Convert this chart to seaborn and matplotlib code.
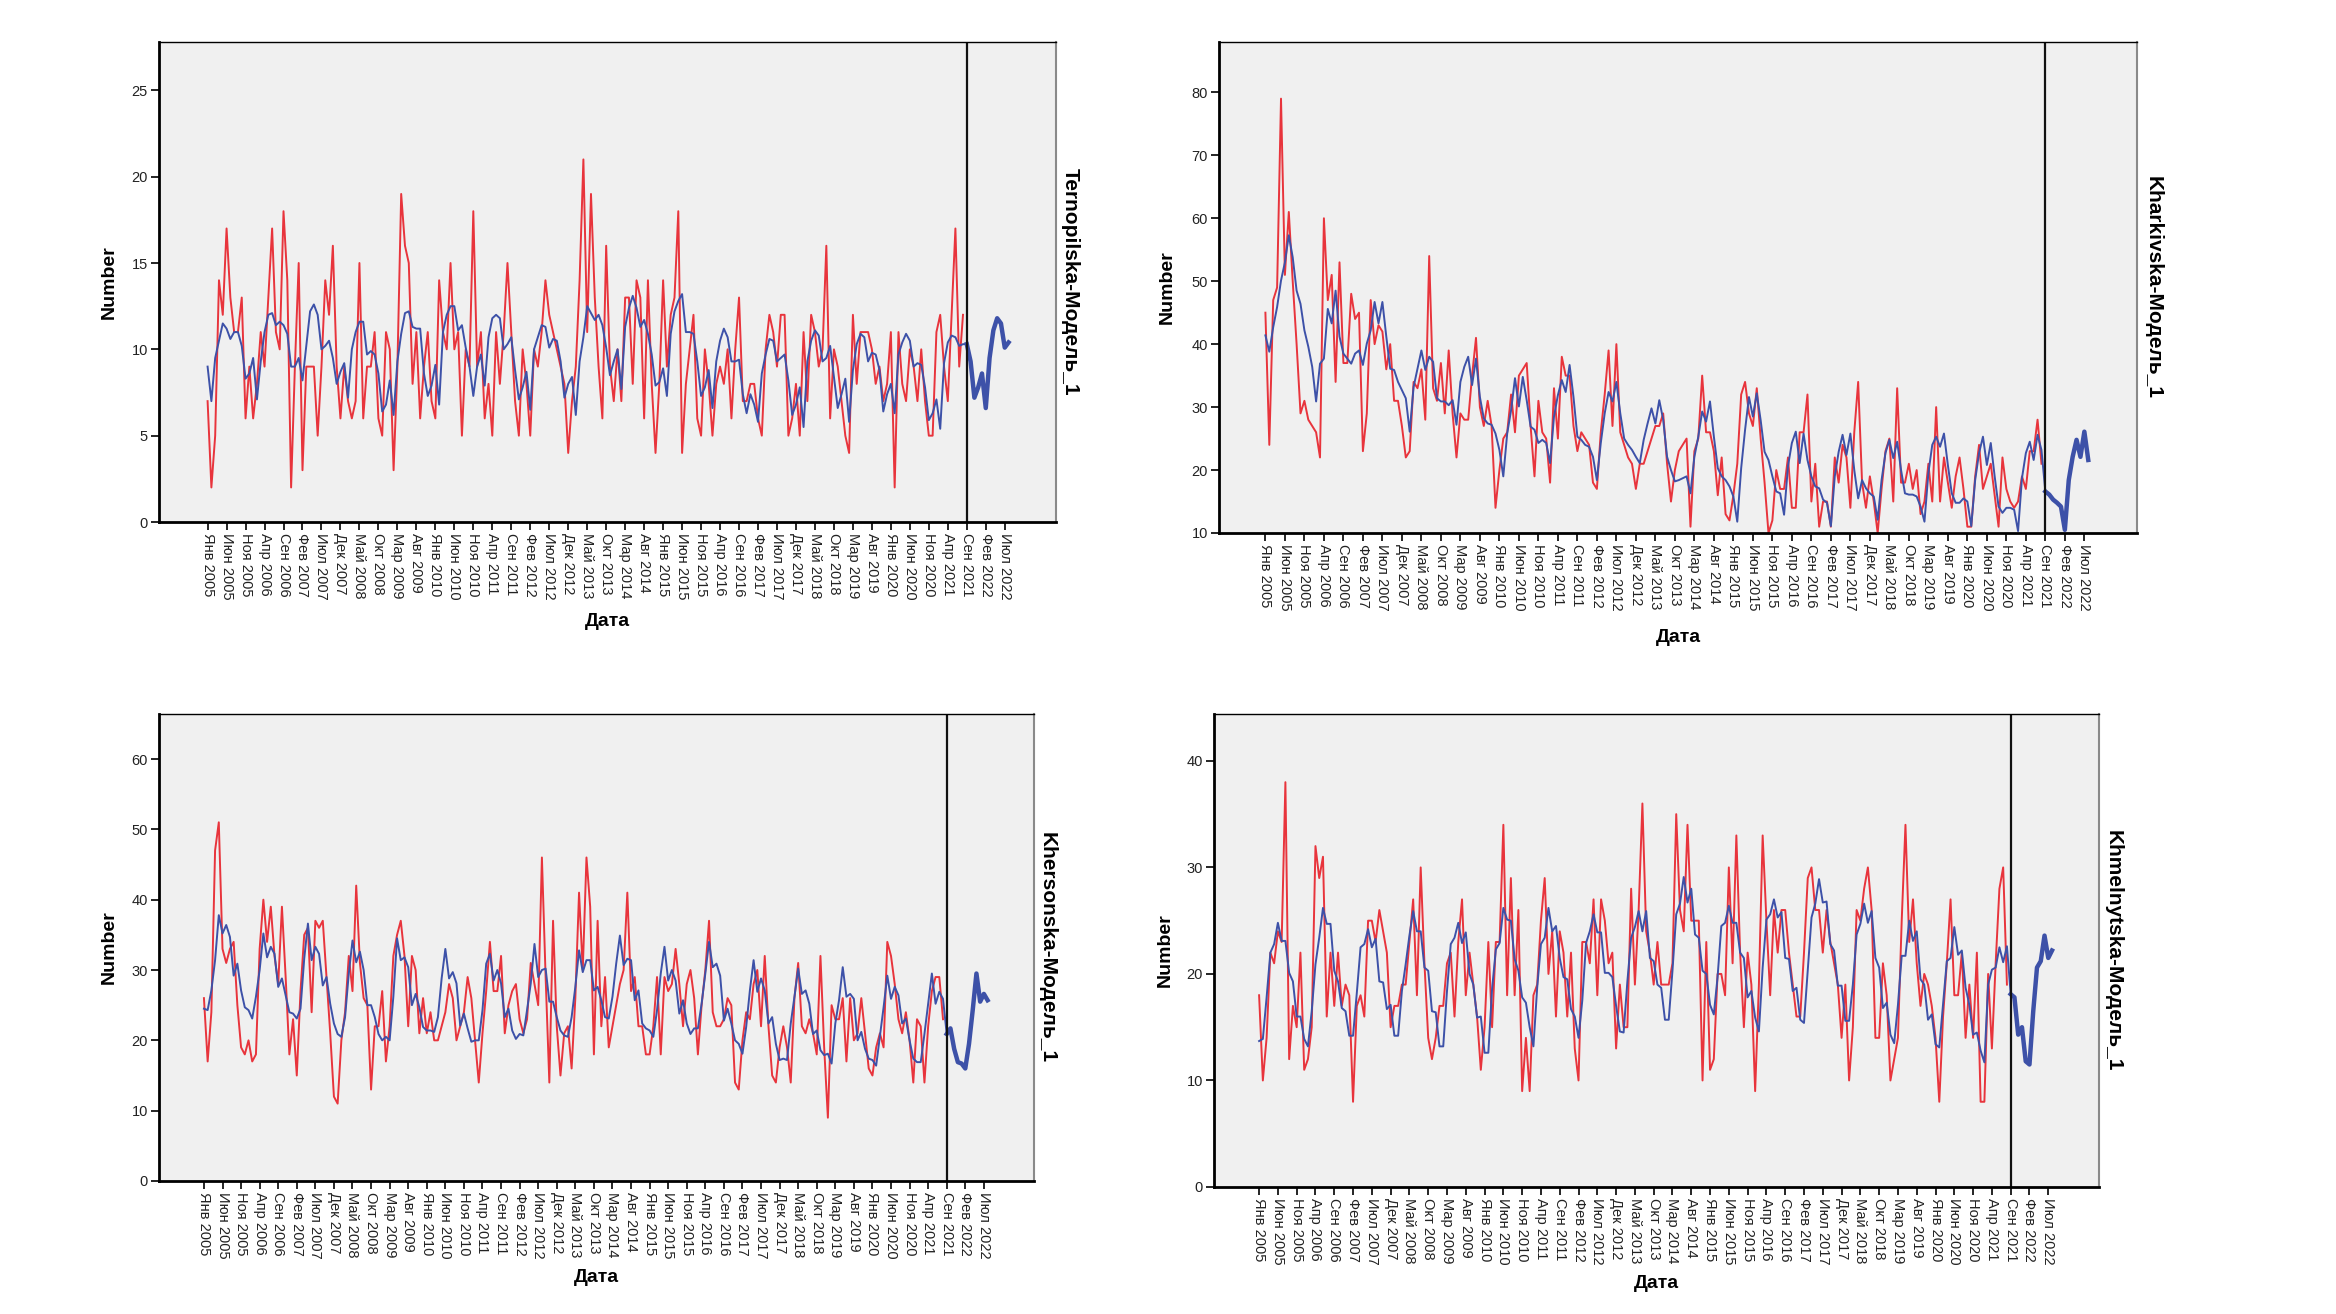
import matplotlib
matplotlib.use('Agg')
import matplotlib.pyplot as plt
import seaborn as sns
import pandas as pd

# --- data (monthly, starting Jan 2005) ---
month_names = ['Янв', 'Фев', 'Мар', 'Апр', 'Май', 'Июн',
               'Июл', 'Авг', 'Сен', 'Окт', 'Ноя', 'Дек']
start_year = 2005
forecast_start = 200  # Сен 2021

tern_obs = [7, 2, 5, 14, 12, 17, 13, 11, 11, 13, 6, 9, 6, 8, 11, 9, 13, 17, 11, 10,
            18, 14, 2, 9, 15, 3, 9, 9, 9, 5, 9, 14, 12, 16, 9, 6, 9, 7, 6, 7,
            15, 6, 9, 9, 11, 6, 5, 11, 10, 3, 9, 19, 16, 15, 8, 11, 6, 9, 11, 7,
            6, 14, 11, 10, 15, 10, 11, 5, 10, 9, 18, 9, 11, 6, 8, 5, 11, 8, 11, 15,
            11, 7, 5, 10, 8, 5, 10, 9, 11, 14, 12, 11, 10, 9, 8, 4, 7, 9, 14, 21,
            11, 19, 13, 9, 6, 16, 9, 7,
            10, 7, 13, 13, 8, 14, 13, 6, 14, 8, 4, 8, 14, 9, 12, 13, 18, 4, 8, 10,
            12, 6, 5, 10, 8, 5, 8, 9, 8, 10, 6, 10, 13, 7, 7, 8, 8, 6, 5, 10,
            12, 11, 9, 12, 12, 5, 6, 8, 5, 11, 7, 12, 11, 9, 10, 16, 6, 10, 9, 7,
            5, 4, 12, 8, 11, 11, 11, 10, 8, 9, 7, 8, 11, 2, 11, 8, 7, 10, 9, 7,
            10, 7, 5, 5, 11, 12, 9, 7, 12, 17, 9, 12]
tern_fit = [9, 7, 9.5, 10.5, 11.5, 11.2, 10.6, 11, 11, 10.2, 8.3, 8.6, 9.5, 7.1, 9.3, 11, 12, 12.1, 11.4, 11.6,
            11.4, 10.9, 9, 9, 9.5, 8.2, 10.2, 12.2, 12.6, 12, 10, 10.2, 10.5, 9.5, 8, 8.7, 9.2, 7.2, 10, 11,
            11.6, 11.6, 9.7, 9.9, 9.7, 8.6, 6.4, 6.8, 8.2, 6.2, 9.3, 10.9, 12.1, 12.2, 11.3, 11.2, 11.2, 8.6, 7.3, 7.9,
            9.1, 6.8, 11, 12, 12.5, 12.5, 11.1, 11.4, 10.1, 9, 7.3, 9, 9.7, 7.9, 10.7, 11.8, 12, 11.8, 10, 10.3,
            10.7, 8.8, 7.1, 7.8, 8.7, 6.5, 10, 10.7, 11.4, 11.3, 10.1, 10.6, 10.5, 9.3, 7.2, 8, 8.4, 6.2, 9.3, 10.7,
            12.5, 12.1, 11.7, 12, 11.4, 10.1,
            8.5, 9.3, 10, 7.7, 11.3, 12.4, 13.1, 12.4, 11.3, 11.7, 10.9, 9.7, 7.9, 8.1, 8.9, 7.3, 10.9, 12.2, 12.8, 13.2,
            11, 11, 10.9, 9.3, 7.3, 7.8, 8.8, 6.6, 9.3, 10.5, 11.2, 10.7, 9.3, 9.3, 9.4, 7.4, 6.3, 7.4, 6.8, 5.8,
            8.6, 9.7, 10.6, 10.5, 9.3, 9.5, 9.7, 8.2, 6.2, 6.8, 7.8, 5.5, 9.3, 10.5, 11.1, 10.8, 9.3, 9.5, 10.2, 8.4,
            6.6, 7.4, 8.3, 5.8, 8.8, 10.3, 10.9, 10.7, 9.3, 9.8, 9.7, 8.8, 6.4, 7.4, 8, 6.3, 9.7, 10.4, 10.9, 10.5,
            9, 9.2, 9.1, 7.8, 5.9, 6.3, 7.1, 5.4, 9.2, 10.4, 10.8, 10.7, 10.2, 10.3, 10.3, 9.3, 7.2, 7.8, 8.6, 6.6,
            9.5, 11.1, 11.8, 11.5, 10.1, 10.4]

khar_obs = [45, 24, 47, 49, 79, 51, 61, 50, 40, 29, 31, 28, 27, 26, 22, 60, 47, 51, 34, 53,
            37, 37, 48, 44, 45, 23, 29, 47, 40, 43, 42, 36, 40, 31, 31, 27, 22, 23, 34, 33,
            36, 28, 54, 33, 31, 37, 29, 39, 29, 22, 29, 28, 28, 35, 41, 30, 27, 31, 27, 14,
            20, 25, 26, 32, 26, 35, 36, 37, 27, 19, 31, 26, 25, 18, 33, 25, 38, 35, 35, 27,
            23, 26, 25, 24, 18, 17, 26, 32, 39, 27, 40, 26, 24, 22, 21, 17, 21, 21, 23, 25,
            27, 27, 29, 21, 15, 20, 23, 24, 25, 11,
            23, 25, 35, 26, 26, 23, 16, 22, 13, 12, 16, 21, 32, 34, 29, 27, 33, 25, 18, 10,
            12, 20, 17, 17, 22, 14, 14, 26, 26, 32, 15, 21, 11, 15, 15, 11, 22, 18, 24, 22,
            14, 26, 34, 18, 14, 19, 15, 10, 17, 23, 25, 15, 33, 18, 18, 21, 17, 20, 13, 15,
            21, 15, 30, 15, 22, 18, 14, 19, 22, 17, 11, 11, 19, 24, 17, 19, 21, 16, 11, 22,
            17, 15, 14, 15, 19, 17, 23, 23, 28, 21]
khar_fit = [41.4, 38.8, 42.7, 45.9, 50.1, 53, 57.3, 53.8, 48.5, 46.4, 42.2, 39.6, 36.4, 30.9, 36.9, 37.7, 45.6, 43.3, 48.5, 41.2,
            38.5, 37.7, 36.9, 38.5, 39, 36.7, 40.1, 42.2, 46.7, 43.3, 46.7, 41.2, 36.1, 35.9, 34, 32.7, 31.4, 26.1, 33.2, 36.1,
            39, 35.9, 38, 37.2, 31.4, 30.9, 30.9, 30.3, 31.1, 27.2, 34, 36.4, 38, 33.5, 37.7, 31.6, 28.2, 27.4, 27.2, 25.8,
            23.2, 19, 25.8, 29.5, 34.6, 30.1, 34.8, 31.1, 26.9, 26.4, 24.3, 24.8, 24.3, 21.1, 28.5, 31.9, 34.3, 32.4, 36.7, 31.6,
            25.3, 24.8, 24, 23.7, 22.1, 18.4, 24.3, 29, 32.4, 30.9, 34, 29, 25, 24, 23.2, 22.1, 21.1, 24.8, 27.4, 29.8,
            27.4, 31.1, 28, 22.1, 20, 18.2, 18.4, 18.7, 19, 16.3,
            22.1, 25.3, 29.3, 27.7, 30.9, 25.3, 20.3, 19, 18.4, 17.4, 15.8, 11.8, 20.3, 26.4, 31.6, 28.5, 32.2, 27.9, 22.9, 21.6,
            19, 16.6, 16.3, 12.9, 20.6, 24.3, 26.1, 21.1, 25.8, 21.6, 19, 17.4, 17.1, 15.3, 14.8, 11.1, 19, 22.9, 25.6, 22.4,
            25.8, 20, 15.5, 18.4, 17.1, 16.3, 15.8, 12.1, 18.4, 22.7, 24.8, 21.9, 24.5, 20, 16.3, 16.1, 16.1, 15.8, 14.2, 11.8,
            19.5, 24, 25.3, 23.7, 25.8, 20.8, 16.3, 14.8, 14.8, 15.5, 15, 11.1, 18.4, 22.7, 25.3, 20.8, 24.3, 19, 14.2, 13.2,
            14, 14, 13.7, 10.3, 18.7, 22.7, 24.5, 21.6, 25.6, 23.2, 16.6, 16.1, 15.3, 14.8, 14.2, 10.5, 18.4, 22.1, 24.8, 22.1,
            26.1, 21.6]

kher_obs = [26, 17, 24, 47, 51, 33, 31, 33, 34, 25, 19, 18, 20, 17, 18, 33, 40, 34, 39, 32,
            28, 39, 29, 18, 23, 15, 27, 35, 36, 24, 37, 36, 37, 29, 21, 12, 11, 20, 24, 32,
            27, 42, 31, 26, 25, 13, 22, 22, 27, 17, 22, 32, 35, 37, 32, 22, 32, 30, 21, 26,
            21, 24, 20, 20, 22, 24, 28, 26, 20, 22, 24, 29, 26, 20, 14, 21, 27, 34, 27, 27,
            32, 21, 25, 27, 28, 23, 21, 23, 31, 28, 25, 46, 29, 14, 37, 22, 15, 21, 22, 16,
            26, 41, 30, 46, 39, 18, 37, 22, 29,
            19, 22, 25, 28, 30, 41, 27, 29, 22, 22, 18, 18, 22, 29, 18, 29, 27, 28, 33, 28,
            22, 28, 30, 26, 18, 25, 30, 37, 24, 22, 22, 23, 26, 25, 14, 13, 20, 24, 23, 28,
            30, 22, 32, 22, 15, 14, 19, 22, 19, 14, 26, 31, 22, 21, 23, 21, 18, 32, 19, 9,
            25, 23, 23, 26, 17, 26, 20, 21, 26, 21, 16, 15, 19, 21, 19, 34, 32, 28, 23, 21,
            24, 20, 14, 23, 22, 14, 22, 27, 29, 29, 23]
kher_fit = [24.5, 24.3, 27.1, 31.4, 37.8, 35.2, 36.4, 34.7, 29.2, 30.9, 27.1, 24.7, 24.3, 23.1, 26.2, 30, 35.2, 31.8, 33.3, 32.3,
            27.6, 28.8, 26.4, 24, 23.8, 23.1, 24.5, 31.6, 36.6, 31.4, 33.3, 32.3, 27.8, 29, 25.2, 22.4, 20.9, 20.5, 23.3, 29.5,
            34.2, 31.1, 32.6, 30, 25, 25, 23.3, 20.9, 20, 20.5, 20, 26.2, 34.5, 31.4, 31.8, 30.4, 25, 26.6, 24.7, 21.9,
            21.4, 21.4, 21.2, 23.3, 28.8, 33, 28.8, 29.7, 28.1, 22.1, 23.8, 21.7, 19.8, 20, 20, 24.3, 30.9, 32.3, 28.5, 30,
            28.1, 23.3, 24.5, 21.4, 20.2, 20.9, 20.7, 24.3, 28.1, 33.7, 29, 30, 30.2, 25.5, 25.5, 23.3, 21.4, 20.7, 20.5, 23.3,
            27.6, 32.8, 29.7, 31.4, 31.4, 27.1, 27.6, 25.7, 23.3,
            23.1, 26.2, 30.9, 34.9, 30.7, 31.6, 31.4, 25.7, 27.1, 22.4, 21.7, 21.4, 20.5, 24.3, 29.5, 33.3, 28.5, 30, 28.5, 23.8,
            25.7, 22.4, 20.9, 21.7, 21.7, 25.2, 29.5, 34, 30.4, 30.9, 29.2, 22.8, 24.5, 22.4, 20, 19.5, 18.1, 21.9, 27.1, 31.4,
            26.9, 28.8, 27.1, 22.4, 23.3, 19.5, 17.2, 17.4, 17.2, 22.4, 26.2, 30.2, 26.6, 27.1, 25.2, 20.9, 21.4, 18.6, 17.9, 18.1,
            16.7, 22.4, 25.7, 30.4, 26.2, 26.6, 25.9, 20, 21.2, 18.8, 17.4, 17.2, 16.4, 20.5, 24.7, 29.2, 25.9, 27.6, 26.4, 22.4,
            23.1, 20, 17.4, 16.9, 16.9, 20.9, 25.2, 29.5, 25.2, 26.9, 25.9, 20.9, 21.7, 18.8, 16.9, 16.7, 16, 19.5, 24.3, 29.5,
            25.5, 26.6, 25.7]

khme_obs = [18, 10, 14, 22, 21, 24, 23, 38, 12, 17, 15, 22, 11, 12, 15, 32, 29, 31, 16, 22,
            17, 22, 17, 19, 18, 8, 17, 18, 16, 25, 25, 23, 26, 24, 22, 15, 17, 17, 19, 19,
            23, 27, 18, 30, 21, 14, 12, 14, 17, 17, 21, 22, 16, 23, 27, 18, 22, 19, 16, 11,
            15, 23, 15, 23, 23, 34, 18, 29, 18, 26, 9, 14, 9, 18, 19, 25, 29, 20, 24, 16,
            24, 22, 16, 22, 13, 10, 23, 23, 21, 27, 18, 27, 25, 21, 22, 13, 19, 15, 15, 28,
            19, 26, 36, 24, 22, 19, 23, 19, 19, 19, 21, 35,
            26, 24, 34, 25, 25, 25, 10, 23, 11, 12, 20, 20, 18, 30, 21, 33, 22, 15, 22, 19,
            9, 19, 33, 25, 18, 26, 22, 26, 26, 22, 19, 16, 16, 22, 29, 30, 26, 26, 22, 26,
            23, 21, 19, 14, 19, 10, 15, 26, 25, 28, 30, 26, 14, 14, 21, 18, 10, 12, 14, 25,
            34, 23, 27, 21, 17, 20, 19, 17, 14, 8, 16, 21, 27, 18, 18, 22, 14, 19, 14, 22,
            8, 8, 20, 13, 21, 28, 30, 19]
khme_fit = [13.7, 13.9, 17.8, 22, 22.8, 24.8, 23.1, 23.1, 20.1, 19.3, 16, 16, 13.9, 13.2, 16.5, 20.9, 23.4, 26.2, 24.7, 24.7,
            20.3, 19.3, 16.8, 16.5, 14.2, 14.2, 18.2, 22.5, 22.8, 24.2, 22.5, 23.3, 19.3, 19.2, 16.7, 17.1, 14.2, 14.2, 18.4, 20.9,
            23.6, 25.9, 24, 24, 20.6, 20.3, 16.5, 16.4, 13.2, 13.2, 18.4, 22.8, 23.4, 24.8, 22.9, 23.9, 20, 19, 15.9, 16,
            12.6, 12.6, 18.6, 22.3, 22.9, 26.2, 25.1, 25, 21.4, 20.3, 17.8, 17.3, 15, 13.2, 18.7, 22.8, 23.4, 26.2, 24, 24.5,
            21.5, 19.7, 19.5, 16.7, 16, 14, 17.5, 22.9, 24, 25.6, 23.9, 23.9, 20.1, 20.1, 19.7, 17, 14.6, 14.5, 19.3, 23.4,
            24.4, 25.9, 24, 25.9, 21.5, 21.2, 19, 18.7, 15.7, 15.7,
            20.3, 25.6, 26.6, 29.1, 26.7, 28, 23.7, 23.4, 20.3, 20, 17.1, 16.2, 19.7, 24.5, 24.8, 26.4, 24.8, 24.8, 22, 21.5,
            17.8, 18.4, 15.9, 14.6, 20.6, 25.1, 25.6, 27, 25.3, 25.8, 21.5, 21.4, 18.4, 18.7, 15.7, 15.4, 20.3, 25.3, 26.6, 28.9,
            26.7, 26.8, 22.8, 22.2, 18.9, 18.9, 15.6, 15.6, 19, 23.7, 24.7, 26.6, 24.8, 25.9, 21.5, 20.6, 16.8, 17.3, 14.3, 13.5,
            17.1, 21.7, 21.7, 25, 23.1, 24, 19.5, 19, 15.7, 16.2, 13.4, 13.1, 17.1, 21.2, 21.5, 24.4, 21.8, 22.2, 18.7, 17.1,
            14.3, 14.5, 12.8, 11.7, 19, 20.4, 20.6, 22.5, 21.1, 22.6, 18.1, 17.8, 14.3, 15, 11.8, 11.5, 16.5, 20.6, 21.2, 23.6,
            21.5, 22.2]

RED = '#e8343c'
BLUE = '#3d51a8'
W, H = 2336, 1314

plt.rcParams['font.family'] = ['Liberation Sans', 'DejaVu Sans']


def draw_panel(fig, box, obs, fit, title, ylim, yticks, xleft, label_off):
    """box = (left, top, right, bottom) in pixels"""
    left, top, right, bottom = box
    w, h = right - left, bottom - top
    ax = fig.add_axes([left / W, 1 - bottom / H, w / W, h / H])
    ax.set_facecolor('#f0f0f0')

    df_obs = pd.DataFrame({'month': range(len(obs)), 'value': obs})
    df_fit = pd.DataFrame({'month': range(len(fit)), 'value': fit})
    hist = df_fit[df_fit['month'] <= forecast_start]
    fc = df_fit[df_fit['month'] >= forecast_start]

    sns.lineplot(data=df_obs, x='month', y='value', ax=ax, color=RED, linewidth=1.4)
    sns.lineplot(data=hist, x='month', y='value', ax=ax, color=BLUE, linewidth=1.4)
    sns.lineplot(data=fc, x='month', y='value', ax=ax, color=BLUE, linewidth=3.2)
    ax.axvline(forecast_start, color='#111111', linewidth=1.6)

    ticks = list(range(0, 211, 5))
    labels = [f'{month_names[t % 12]} {start_year + t // 12}' for t in ticks]
    ax.set_xticks(ticks)
    ax.set_xticklabels(labels, rotation=270)
    ax.set_yticks(yticks)
    ax.set_xlim(xleft, 223.5)
    ax.set_ylim(*ylim)
    ax.tick_params(axis='both', direction='out', length=6, width=1.2,
                   color='black', labelsize=10.5, labelcolor='#222222', pad=2)

    for s in ['left', 'bottom']:
        ax.spines[s].set_color('black')
        ax.spines[s].set_linewidth(2)
    ax.spines['top'].set_color('black')
    ax.spines['top'].set_linewidth(1)
    ax.spines['right'].set_color('#8a8a8a')
    ax.spines['right'].set_linewidth(1.5)

    ylab_dx, xlab_dy, rlab_dx = label_off
    ax.set_ylabel('Number', fontsize=14, fontweight='bold')
    ax.yaxis.label.set_va('center')
    ax.yaxis.set_label_coords(-ylab_dx / w, 0.5)
    ax.set_xlabel('Дата', fontsize=14, fontweight='bold')
    ax.xaxis.label.set_va('center')
    ax.xaxis.set_label_coords(0.5, -xlab_dy / h)

    ax.text(1 + rlab_dx / w, 0.5, title, transform=ax.transAxes, rotation=270,
            ha='center', va='center', fontsize=15, fontweight='bold')
    return ax


fig = plt.figure(figsize=(W / 100, H / 100), dpi=100)

draw_panel(fig, (159, 42, 1056, 522), tern_obs, tern_fit, 'Ternopilska-Модель_1',
           (0, 27.8), range(0, 26, 5), -12.8, (50, 100, 14))
draw_panel(fig, (1219, 42, 2137, 533), khar_obs, khar_fit, 'Kharkivska-Модель_1',
           (10, 88), range(10, 81, 10), -11.9, (52, 105, 16))
draw_panel(fig, (159, 714, 1034, 1181), kher_obs, kher_fit, 'Khersonska-Модель_1',
           (0, 66.4), range(0, 61, 10), -12.1, (50, 97, 13))
draw_panel(fig, (1214, 714, 2099, 1187), khme_obs, khme_fit, 'Khmelnytska-Модель_1',
           (0, 44.4), range(0, 41, 10), -12.0, (49, 97, 14))

fig.savefig('out.png', dpi=100, facecolor='white')
plt.close(fig)
